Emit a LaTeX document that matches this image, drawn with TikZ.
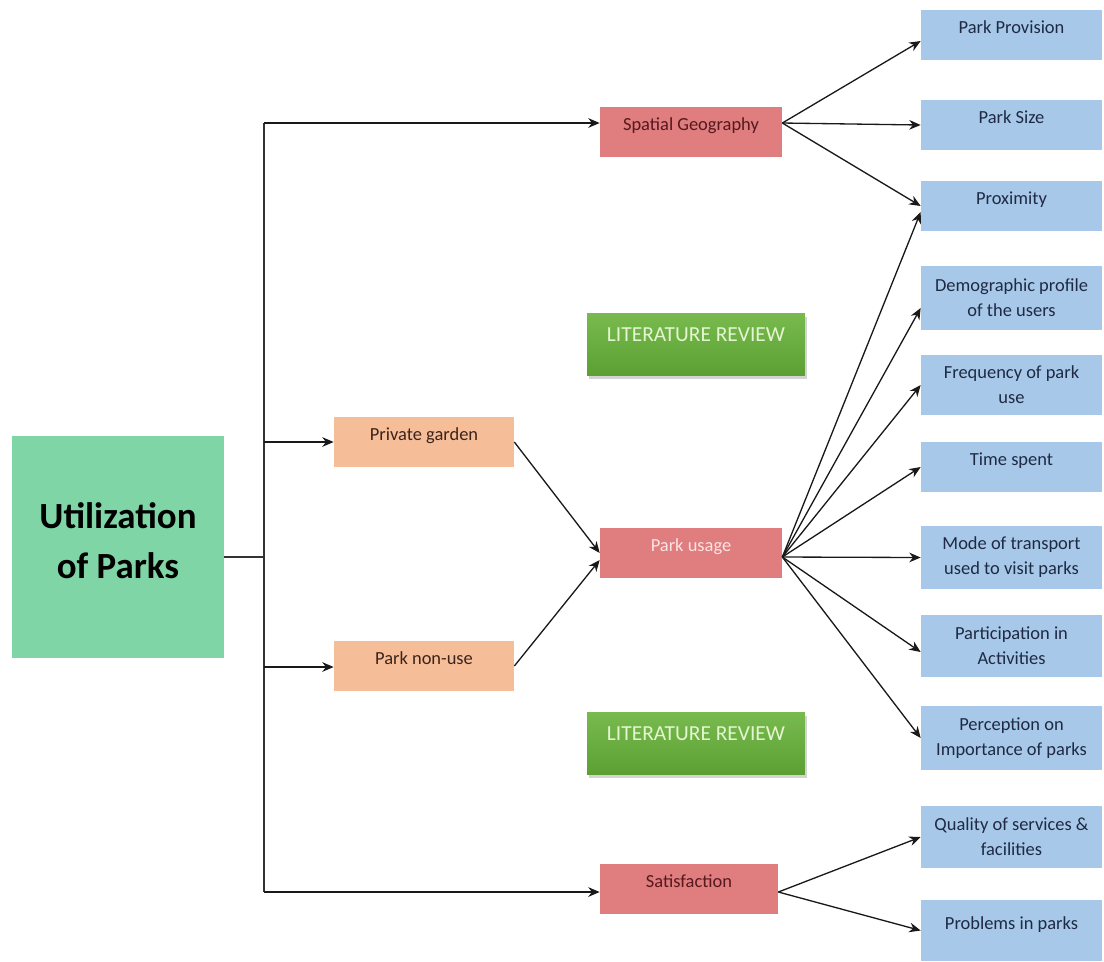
\documentclass[tikz,border=0pt]{standalone}
\usepackage{fontspec}
\setmainfont{Carlito}
\usetikzlibrary{arrows.meta,shadows}
\definecolor{mintfill}{RGB}{127,213,165}
\definecolor{redfill}{RGB}{224,125,126}
\definecolor{redtext}{RGB}{85,25,30}
\definecolor{peachfill}{RGB}{246,190,152}
\definecolor{peachtext}{RGB}{60,35,25}
\definecolor{bluefill}{RGB}{167,200,232}
\definecolor{bluetext}{RGB}{30,42,68}
\definecolor{lrtop}{RGB}{120,186,78}
\definecolor{lrbot}{RGB}{92,160,52}
\definecolor{lrtext}{RGB}{228,246,208}
\begin{document}
\begin{tikzpicture}[
    >={Stealth[length=6.5pt,width=5.5pt]},
    every edge/.style={draw,line width=0.75pt,black!90},
    line/.style={draw,line width=0.8pt,black!80},
    box/.style={inner sep=0pt,align=center,font=\fontsize{10.5}{14.2}\selectfont},
    oneline/.style={text depth=8.6pt},
    redbox/.style={box,oneline,fill=redfill,text=redtext,minimum width=3.64cm,minimum height=1cm},
    peachbox/.style={box,oneline,fill=peachfill,text=peachtext,minimum width=3.6cm,minimum height=1cm},
    bluebox/.style={box,fill=bluefill,text=bluetext,minimum width=3.62cm,minimum height=#1*0.02cm},
    bluebox/.default=50,
    lrbox/.style={box,top color=lrtop,bottom color=lrbot,text=lrtext,
      font=\fontsize{12.2}{14}\selectfont,text depth=11pt,
      minimum width=4.36cm,minimum height=1.24cm,
      drop shadow={shadow xshift=1pt,shadow yshift=-2pt,opacity=0.35}}]
    \def\x{0.02}
    \def\y{-0.02}
    \useasboundingbox (0,0) rectangle (1104*\x, 961*\y);

    \node (util) [box,fill=mintfill,minimum width=4.24cm,minimum height=4.44cm,
      font=\fontsize{21}{28.4}\selectfont\bfseries,text depth=7pt]
      at (118*\x, 547*\y) {Utilization\\of Parks};

    \node (spatial) [redbox] at (691*\x, 132*\y) {Spatial Geography};
    \node (usage) [redbox,text={rgb,255:red,252;green,228;blue,228}] at (691*\x, 553*\y) {Park usage};
    \node (satis) [redbox,minimum width=3.56cm] at (689*\x, 889*\y) {Satisfaction};
    \node (private) [peachbox] at (424*\x, 442*\y) {Private garden};
    \node (nonuse) [peachbox] at (424*\x, 666*\y) {Park non-use};
    \node (lr1) [lrbox] at (696*\x, 344*\y) {LITERATURE REVIEW};
    \node (lr2) [lrbox] at (696*\x, 743*\y) {LITERATURE REVIEW};

    \node (prov) [bluebox,oneline] at (1011.5*\x, 35*\y) {Park Provision};
    \node (size) [bluebox,oneline] at (1011.5*\x, 125*\y) {Park Size};
    \node (prox) [bluebox,oneline] at (1011.5*\x, 206*\y) {Proximity};
    \node (demo) [bluebox=64] at (1011.5*\x, 298*\y) {Demographic profile\\of the users};
    \node (freq) [bluebox=60] at (1011.5*\x, 385*\y) {Frequency of park\\use};
    \node (time) [bluebox,oneline] at (1011.5*\x, 467*\y) {Time spent};
    \node (mode) [bluebox=63] at (1011.5*\x, 557.5*\y) {Mode of transport\\used to visit parks};
    \node (part) [bluebox=62] at (1011.5*\x, 646*\y) {Participation in\\Activities};
    \node (perc) [bluebox=64] at (1011.5*\x, 738*\y) {Perception on\\Importance of parks};
    \node (qual) [bluebox=62] at (1011.5*\x, 837*\y) {Quality of services \&\\facilities};
    \node (prob) [bluebox=61,oneline] at (1011.5*\x, 930.5*\y) {Problems in parks};

    \coordinate (hub) at (264*\x, 557*\y);
    \coordinate (t1) at (264*\x, 123*\y);
    \coordinate (t2) at (264*\x, 442*\y);
    \coordinate (t3) at (264*\x, 667*\y);
    \coordinate (t4) at (264*\x, 892*\y);
    \coordinate (sg) at (spatial.east |- t1);
    \coordinate (pu) at ([yshift=-0.08cm]usage.east);
    \coordinate (sf) at (satis.east |- t4);

    \draw [line] (util.east |- hub) -- (hub);
    \draw [line] (t1) -- (t4);
    \path (t1) edge [->] (t1 -| spatial.west);
    \path (t2) edge [->] (t2 -| private.west);
    \path (t3) edge [->] (t3 -| nonuse.west);
    \path (t4) edge [->] (t4 -| satis.west);

    \path (private.east) edge [->] (usage.west);
    \path (nonuse.east) edge [->] ([yshift=-0.14cm]usage.west);

    \path (sg) edge [->] ([yshift=-0.12cm]prov.west);
    \path (sg) edge [->] (size.west);
    \path (sg) edge [->] (prox.west);

    \path (pu) edge [->] ([yshift=-0.12cm]prox.west);
    \path (pu) edge [->] ([yshift=-0.2cm]demo.west);
    \path (pu) edge [->] (freq.west);
    \path (pu) edge [->] (time.west);
    \path (pu) edge [->] (mode.west);
    \path (pu) edge [->] ([yshift=-0.12cm]part.west);
    \path (pu) edge [->] (perc.west);

    \path (sf) edge [->] (qual.west);
    \path (sf) edge [->] (prob.west);
  \end{tikzpicture}
\end{document}
